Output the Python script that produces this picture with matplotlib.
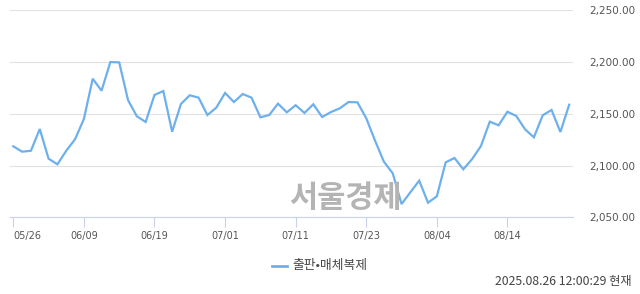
import matplotlib
matplotlib.use("Agg")
import matplotlib.pyplot as plt

# 출판·매체복제 업종 지수 (05/26 ~ 08/26)
values = [2118.6, 2113.4, 2114.3, 2135.3, 2106.6, 2101.2, 2114.3, 2125.4,
          2145.0, 2183.9, 2172.3, 2200.0, 2199.7, 2163.3, 2147.6, 2142.1,
          2168.2, 2172.0, 2132.7, 2159.5, 2167.9, 2165.6, 2148.8, 2155.9,
          2170.1, 2161.4, 2169.1, 2165.6, 2146.6, 2148.8, 2159.8, 2151.4,
          2158.3, 2150.8, 2159.2, 2146.9, 2151.7, 2155.3, 2161.4, 2161.1,
          2145.7, 2124.0, 2103.7, 2092.5, 2062.8, 2074.2, 2085.4, 2064.1,
          2070.3, 2103.1, 2107.3, 2096.4, 2106.3, 2118.9, 2142.4, 2138.9,
          2152.0, 2147.9, 2135.0, 2127.3, 2148.6, 2153.7, 2132.4, 2158.8]
tick_pos = [0, 8, 16, 24, 32, 40, 48, 56]
tick_labels = ["05/26", "06/09", "06/19", "07/01", "07/11", "07/23", "08/04", "08/14"]
y_ticks = [2050, 2100, 2150, 2200, 2250]
series_name = "출판•매체복제"
stamp = "2025.08.26 12:00:29 현재"

kr = ["Noto Sans CJK KR", "DejaVu Sans"]
W, H = 640, 294
fig = plt.figure(figsize=(W / 100, H / 100), dpi=100)
ax = fig.add_axes([10 / W, (H - 217.3) / H, 563 / W, 207 / H])

ax.plot(range(len(values)), values, color="#6eb0ec", lw=1.6, zorder=3,
        solid_joinstyle="miter")
ax.set_xlim(-0.374, 63.43)
ax.set_ylim(2050, 2250)

ax.set_yticks(y_ticks)
ax.set_yticklabels([f"{v:,.2f}" for v in y_ticks])
ax.yaxis.tick_right()
ax.tick_params(axis="y", length=0, pad=11.5, labelsize=7.5, labelcolor="#555555")
ax.grid(axis="y", color="#e2e2e2", lw=0.8)

ax.set_xticks(tick_pos)
ax.set_xticklabels(tick_labels)
ax.tick_params(axis="x", length=7, width=0.8, color="#c9d2e8", pad=3,
               labelsize=7, labelcolor="#555555")
ax.get_xticklabels()[0].set_ha("left")
for s in ["top", "left", "right"]:
    ax.spines[s].set_visible(False)
ax.spines["bottom"].set_color("#c9d2e8")
ax.spines["bottom"].set_linewidth(0.8)

fig.text(345 / W, 1 - 198 / H, "서울경제", family=kr, fontsize=22,
         fontweight="bold", color="#b4b4b4", ha="center", va="center", zorder=1)

fig.lines.append(plt.Line2D([272 / W, 287 / W], [1 - 266 / H] * 2,
                            color="#6eb0ec", lw=2, transform=fig.transFigure))
fig.text(292 / W, 1 - 266 / H, series_name, family=kr, fontsize=9.2,
         color="#444444", ha="left", va="center")
fig.text(632 / W, 1 - 282 / H, stamp, family=kr, fontsize=8.8,
         color="#444444", ha="right", va="center")

fig.savefig("out.png", dpi=100)
